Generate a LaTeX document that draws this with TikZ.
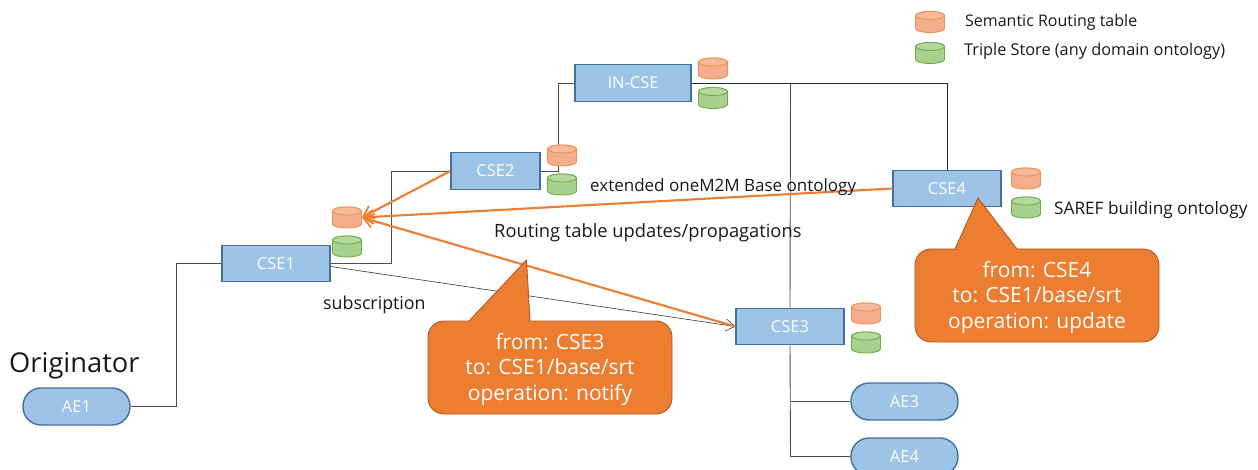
\documentclass[tikz,border=0pt]{standalone}
\usepackage{fontspec}
\setmainfont{Open Sans}
\usetikzlibrary{arrows.meta}
\definecolor{boxfill}{HTML}{9DC3E6}
\definecolor{boxline}{HTML}{41719C}
\definecolor{orng}{HTML}{ED7D31}
\definecolor{orngdk}{HTML}{AE5A21}
\definecolor{cylo}{HTML}{F4AE8C}
\definecolor{cylg}{HTML}{A9D18E}
\definecolor{cylgl}{HTML}{70AD47}
\newcommand\dbnode[5]{%
 \node[inner sep=0pt,minimum width=29pt,minimum height=21pt,xshift=0.7pt] (#1) at (#2,#3) {};
 \draw[draw=#5,fill=#4,line width=0.9pt] (#1.west) ++(0pt,6.5pt) -- ++(0pt,-13pt)
   arc[start angle=180,end angle=360,x radius=14.5pt,y radius=4pt] -- ++(0pt,13pt)
   arc[start angle=0,end angle=180,x radius=14.5pt,y radius=4pt] -- cycle;
 \draw[draw=#5,fill=#4!85!white,line width=0.9pt] (#1.west) ++(0pt,6.5pt)
   arc[start angle=180,end angle=-180,x radius=14.5pt,y radius=4pt];
}
\tikzset{
 entity/.style={draw=boxline,line width=1.4pt,fill=boxfill,text=white,font=\fontsize{16.5}{18}\selectfont,inner sep=0pt},
 cse/.style={entity,rectangle,minimum width=108pt,minimum height=36.5pt},
 ae/.style={entity,rectangle,rounded corners=18pt,minimum width=107pt,minimum height=37pt},
 wire/.style={draw=black!70,line width=0.9pt},
 thin wire/.style={draw=black!80,line width=0.6pt},
 update/.style={draw=orng,line width=2.1pt,-{Straight Barb[length=10pt,width=14pt,line width=1.8pt]}},
 callout body/.style={draw=orngdk,line width=0.9pt,fill=orng},
 callout text/.style={text=white,align=center,font=\fontsize{21}{25.5}\selectfont,inner sep=0pt},
 lbl/.style={text=black!90,inner sep=0pt,anchor=west},
}
\begin{document}
\begin{tikzpicture}[x=1pt,y=-1pt]
\useasboundingbox (0,0) rectangle (1258,470);
% nodes
\node[ae] (ae1) at (76.5,406.5) {AE1};
\node[cse] (cse1) at (276,263.5) {CSE1};
\node[cse,minimum width=89pt] (cse2) at (495.5,171) {CSE2};
\node[cse,minimum width=116pt] (in) at (633,83) {IN-CSE};
\node[cse] (cse4) at (947,188.5) {CSE4};
\node[cse] (cse3) at (790,326.5) {CSE3};
\node[ae] (ae3) at (904.5,401.5) {AE3};
\node[ae] (ae4) at (904.5,456.5) {AE4};
\coordinate (j1) at (790.5,83);
\coordinate (j2) at (790.5,401.5);
\coordinate (j3) at (790.5,456.5);
% connectors
\draw[wire] (ae1.east) -- (176,406.5) |- (cse1.west);
\draw[wire] (cse1.east) -- (391,263.5) |- (cse2.west);
\draw[wire] (cse2.east) -- (558,171) |- (in.west);
\draw[wire,draw=black!85] (in.east) -| (cse4.north);
\draw[wire] (j1) -- (cse3.north);
\draw[wire] (cse3.south) -- (j3) -- (ae4.west);
\draw[wire] (j2) -- (ae3.west);
% cylinders
\dbnode{in-r}{712.5}{68.5}{cylo}{orng!85}
\dbnode{in-t}{712.5}{98}{cylg}{cylgl}
\dbnode{c2-r}{561.5}{155.5}{cylo}{orng!85}
\dbnode{c2-t}{561.5}{184.5}{cylg}{cylgl}
\dbnode{c1-r}{346.5}{217.5}{cylo}{orng!85}
\dbnode{c1-t}{346.5}{246.5}{cylg}{cylgl}
\dbnode{c4-r}{1025.5}{178.5}{cylo}{orng!85}
\dbnode{c4-t}{1025.5}{207.5}{cylg}{cylgl}
\dbnode{c3-r}{865.5}{313.5}{cylo}{orng!85}
\dbnode{c3-t}{865.5}{342.5}{cylg}{cylgl}
\dbnode{leg-r}{929.5}{22}{cylo}{orng!85}
\dbnode{leg-t}{929.5}{53}{cylg}{cylgl}
% arrows
\draw[thin wire,-{Straight Barb[length=9pt,width=12pt,line width=0.6pt]}] (cse1.east) ++(0pt,-3pt) -- (cse3.west);
\draw[update] (cse2.west) -- (c1-r.east);
\draw[update] (cse4.west) -- (c1-r.east);
\draw[update] (cse3.west) -- (c1-r.east);
% callouts
\coordinate (tipa) at (526.5,260);
\coordinate (tipb) at (978,198);
\draw[callout body] (tipa) -- (530,321) -- (656,321) arc[start angle=90,end angle=0,radius=16pt]
  -- (672,398) arc[start angle=0,end angle=-90,radius=16pt]
  -- (444,414) arc[start angle=-90,end angle=-180,radius=16pt]
  -- (428,337) arc[start angle=180,end angle=90,radius=16pt] -- (469,321) -- cycle;
\node[callout text] (noteA) at (550,369) {from: CSE3\\to: CSE1/base/srt\\operation: notify};
\draw[callout body] (tipb) -- (1017,249) -- (1143,249) arc[start angle=90,end angle=0,radius=16pt]
  -- (1159,326) arc[start angle=0,end angle=-90,radius=16pt]
  -- (931,342) arc[start angle=-90,end angle=-180,radius=16pt]
  -- (915,265) arc[start angle=180,end angle=90,radius=16pt] -- (955,249) -- cycle;
\node[callout text] (noteB) at (1037,297) {from: CSE4\\to: CSE1/base/srt\\operation: update};
% labels
\node[lbl,font=\fontsize{27.3}{30}\selectfont] (orig) at (9,366) {Originator};
\node[lbl,font=\fontsize{17.8}{20}\selectfont] (subs) at (323,305) {subscription};
\node[lbl,font=\fontsize{18.3}{20}\selectfont] (rt) at (494,232.5) {Routing table updates/propagations};
\node[lbl,font=\fontsize{17}{20}\selectfont] (ext) at (590,187.5) {extended oneM2M Base ontology};
\node[lbl,font=\fontsize{17.2}{20}\selectfont] (saref) at (1054,210.5) {SAREF building ontology};
\node[lbl,font=\fontsize{16}{20}\selectfont] (lg1) at (965,22.5) {Semantic Routing table};
\node[lbl,font=\fontsize{16.3}{20}\selectfont] (lg2) at (964,51.5) {Triple Store (any domain ontology)};
\end{tikzpicture}
\end{document}
